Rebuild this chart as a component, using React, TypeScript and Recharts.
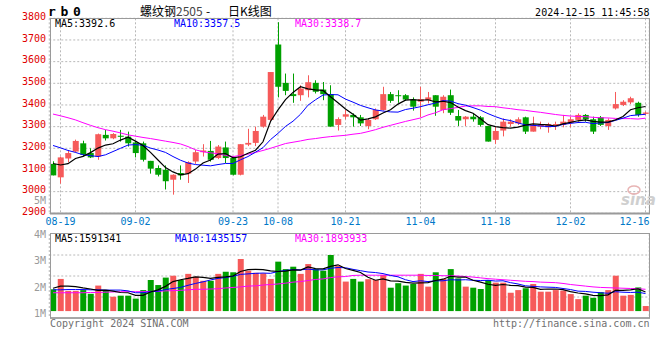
import { ComposedChart, Bar, Line, XAxis, YAxis, CartesianGrid, Cell } from 'recharts';

// rb0 daily K-line, trading days 08-16 .. 12-16
const DATES = [
  '08-16', '08-19', '08-20', '08-21', '08-22', '08-23', '08-26', '08-27', '08-28', '08-29',
  '08-30', '09-02', '09-03', '09-04', '09-05', '09-06', '09-09', '09-10', '09-11', '09-12',
  '09-13', '09-18', '09-19', '09-20', '09-23', '09-24', '09-25', '09-26', '09-27', '09-30',
  '10-08', '10-09', '10-10', '10-11', '10-14', '10-15', '10-16', '10-17', '10-18', '10-21',
  '10-22', '10-23', '10-24', '10-25', '10-28', '10-29', '10-30', '10-31', '11-01', '11-04',
  '11-05', '11-06', '11-07', '11-08', '11-11', '11-12', '11-13', '11-14', '11-15', '11-18',
  '11-19', '11-20', '11-21', '11-22', '11-25', '11-26', '11-27', '11-28', '11-29', '12-02',
  '12-03', '12-04', '12-05', '12-06', '12-09', '12-10', '12-11', '12-12', '12-13', '12-16',
];

const OPEN = [
  3128, 3066, 3153, 3185, 3223, 3178, 3162, 3262, 3246, 3258,
  3254, 3227, 3223, 3142, 3109, 3101, 3055, 3086, 3083, 3139,
  3182, 3188, 3155, 3204, 3155, 3078, 3217, 3225, 3300, 3331,
  3679, 3502, 3450, 3445, 3468, 3502, 3471, 3450, 3308, 3346,
  3354, 3343, 3303, 3334, 3377, 3450, 3445, 3445, 3425, 3415,
  3422, 3445, 3377, 3445, 3349, 3334, 3346, 3343, 3303, 3239,
  3282, 3312, 3315, 3343, 3277, 3300, 3297, 3306, 3308, 3318,
  3331, 3354, 3334, 3343, 3303, 3384, 3400, 3412, 3410, 3359,
];
const HIGH = [
  3140, 3162, 3190, 3240, 3235, 3200, 3268, 3285, 3270, 3285,
  3277, 3234, 3231, 3142, 3121, 3121, 3080, 3121, 3140, 3193,
  3219, 3234, 3215, 3231, 3162, 3219, 3290, 3300, 3354, 3552,
  3782, 3545, 3545, 3491, 3537, 3514, 3506, 3491, 3343, 3377,
  3361, 3354, 3338, 3384, 3484, 3460, 3468, 3450, 3435, 3484,
  3460, 3445, 3445, 3471, 3377, 3349, 3361, 3349, 3303, 3300,
  3338, 3334, 3343, 3346, 3346, 3323, 3318, 3323, 3354, 3346,
  3361, 3358, 3346, 3349, 3338, 3460, 3422, 3438, 3415, 3369,
];
const LOW = [
  3075, 3037, 3135, 3180, 3162, 3155, 3147, 3236, 3242, 3231,
  3208, 3158, 3139, 3083, 3070, 3010, 2986, 3055, 3040, 3128,
  3162, 3139, 3150, 3132, 3075, 3075, 3210, 3210, 3295, 3323,
  3435, 3445, 3410, 3419, 3435, 3453, 3422, 3300, 3282, 3334,
  3300, 3303, 3288, 3331, 3374, 3410, 3410, 3419, 3374, 3343,
  3407, 3350, 3362, 3354, 3303, 3303, 3323, 3300, 3231, 3220,
  3255, 3300, 3308, 3266, 3277, 3288, 3272, 3285, 3297, 3297,
  3323, 3323, 3266, 3303, 3285, 3379, 3395, 3404, 3346, 3354,
];
const CLOSE = [
  3075, 3158, 3178, 3234, 3170, 3158, 3265, 3246, 3266, 3253,
  3223, 3178, 3147, 3106, 3078, 3048, 3078, 3075, 3136, 3182,
  3190, 3147, 3208, 3155, 3078, 3219, 3225, 3280, 3346, 3552,
  3484, 3465, 3441, 3476, 3505, 3461, 3450, 3300, 3335, 3357,
  3343, 3315, 3331, 3377, 3450, 3419, 3441, 3425, 3392, 3427,
  3435, 3392, 3438, 3364, 3328, 3346, 3334, 3308, 3231, 3280,
  3323, 3323, 3334, 3277, 3308, 3308, 3312, 3312, 3323, 3334,
  3354, 3334, 3277, 3308, 3331, 3404, 3415, 3431, 3354, 3365,
];

const MA5 = [
  3130, 3123, 3129, 3153, 3163, 3180, 3201, 3215, 3221, 3238,
  3251, 3233, 3213, 3181, 3146, 3111, 3091, 3077, 3083, 3104,
  3132, 3146, 3173, 3176, 3156, 3161, 3177, 3191, 3230, 3324,
  3377, 3425, 3458, 3484, 3474, 3470, 3467, 3438, 3410, 3381,
  3357, 3330, 3336, 3345, 3363, 3378, 3404, 3422, 3425, 3421,
  3424, 3414, 3417, 3411, 3391, 3374, 3362, 3336, 3309, 3300,
  3295, 3293, 3298, 3307, 3313, 3310, 3308, 3303, 3313, 3320,
  3327, 3331, 3324, 3321, 3321, 3331, 3347, 3378, 3387, 3393,
];
const MA10 = [
  3213, 3202, 3190, 3181, 3170, 3166, 3162, 3170, 3185, 3200,
  3215, 3217, 3214, 3201, 3192, 3181, 3162, 3145, 3132, 3125,
  3122, 3119, 3125, 3130, 3130, 3147, 3162, 3182, 3203, 3240,
  3269, 3301, 3325, 3357, 3399, 3424, 3446, 3448, 3447, 3427,
  3413, 3398, 3387, 3377, 3372, 3368, 3367, 3379, 3385, 3392,
  3401, 3409, 3420, 3418, 3406, 3399, 3388, 3376, 3360, 3346,
  3334, 3328, 3317, 3308, 3306, 3303, 3300, 3301, 3310, 3315,
  3319, 3320, 3314, 3317, 3319, 3329, 3339, 3351, 3354, 3357,
];
const MA30 = [
  3358, 3350, 3341, 3331, 3318, 3306, 3295, 3286, 3279, 3271,
  3262, 3256, 3250, 3245, 3239, 3233, 3227, 3220, 3208, 3193,
  3184, 3179, 3175, 3167, 3162, 3167, 3173, 3181, 3190, 3200,
  3211, 3222, 3228, 3234, 3241, 3245, 3250, 3254, 3257, 3260,
  3265, 3269, 3277, 3286, 3297, 3306, 3315, 3324, 3332, 3340,
  3354, 3364, 3378, 3383, 3389, 3395, 3396, 3396, 3393, 3392,
  3387, 3383, 3378, 3375, 3370, 3366, 3361, 3356, 3352, 3349,
  3347, 3346, 3343, 3341, 3340, 3338, 3337, 3337, 3335, 3339,
];

// volume in millions, read against the panel's M labels
const VOLUME = [
  1.92, 2.31, 1.86, 1.86, 1.89, 1.75, 2.06, 1.89, 1.64, 1.68,
  1.68, 1.57, 1.89, 2.27, 2.08, 2.36, 2.43, 2.27, 2.5, 2.39,
  2.24, 2.24, 2.5, 2.58, 2.56, 3.06, 2.62, 2.54, 2.52, 2.31,
  2.96, 2.68, 2.77, 2.5, 2.87, 2.68, 2.62, 3.21, 2.8, 2.21,
  2.31, 2.21, 2.3, 2.27, 2.46, 1.98, 2.15, 2.06, 2.12, 2.5,
  2.02, 2.56, 2.31, 2.68, 2.33, 2.02, 1.98, 1.93, 2.27, 2.17,
  2.17, 1.79, 1.89, 1.96, 2.12, 1.83, 1.83, 1.89, 1.87, 1.74,
  1.55, 1.68, 1.6, 1.81, 1.89, 2.43, 1.68, 1.71, 1.99, 1.29,
];
const VOL_MA5 = [
  1.96, 2.04, 2.04, 2.02, 1.97, 1.93, 1.88, 1.89, 1.85, 1.8,
  1.79, 1.69, 1.69, 1.82, 1.9, 2.03, 2.21, 2.28, 2.33, 2.39,
  2.37, 2.33, 2.37, 2.39, 2.42, 2.59, 2.66, 2.67, 2.66, 2.61,
  2.59, 2.6, 2.65, 2.64, 2.76, 2.7, 2.69, 2.78, 2.84, 2.7,
  2.63, 2.55, 2.37, 2.26, 2.31, 2.24, 2.23, 2.18, 2.15, 2.16,
  2.17, 2.25, 2.3, 2.41, 2.38, 2.38, 2.26, 2.19, 2.11, 2.07,
  2.1, 2.07, 2.06, 2.0, 1.99, 1.92, 1.93, 1.93, 1.91, 1.83,
  1.78, 1.75, 1.69, 1.68, 1.71, 1.88, 1.88, 1.9, 1.94, 1.82,
];
const VOL_MA10 = [
  1.9, 1.9, 1.91, 1.91, 1.91, 1.9, 1.9, 1.89, 1.89, 1.89,
  1.86, 1.79, 1.79, 1.83, 1.85, 1.91, 1.95, 1.99, 2.07, 2.14,
  2.2, 2.27, 2.33, 2.36, 2.41, 2.48, 2.5, 2.52, 2.53, 2.52,
  2.59, 2.63, 2.66, 2.65, 2.68, 2.65, 2.65, 2.71, 2.74, 2.73,
  2.67, 2.62, 2.57, 2.55, 2.51, 2.44, 2.39, 2.28, 2.21, 2.24,
  2.21, 2.24, 2.24, 2.28, 2.27, 2.28, 2.26, 2.25, 2.26, 2.23,
  2.24, 2.17, 2.12, 2.05, 2.03, 2.01, 2.0, 1.99, 1.95, 1.91,
  1.85, 1.84, 1.81, 1.79, 1.77, 1.83, 1.81, 1.8, 1.81, 1.76,
];
const VOL_MA30 = [
  1.79, 1.79, 1.79, 1.79, 1.79, 1.8, 1.8, 1.81, 1.82, 1.83,
  1.83, 1.83, 1.83, 1.84, 1.84, 1.86, 1.87, 1.88, 1.9, 1.92,
  1.92, 1.93, 1.94, 1.97, 1.99, 2.01, 2.04, 2.05, 2.08, 2.1,
  2.12, 2.15, 2.19, 2.21, 2.25, 2.29, 2.31, 2.36, 2.39, 2.4,
  2.44, 2.45, 2.45, 2.45, 2.45, 2.45, 2.45, 2.45, 2.45, 2.45,
  2.44, 2.44, 2.43, 2.43, 2.42, 2.4, 2.38, 2.35, 2.32, 2.3,
  2.28, 2.26, 2.24, 2.22, 2.21, 2.19, 2.18, 2.17, 2.14, 2.1,
  2.07, 2.04, 2.01, 1.99, 1.98, 1.97, 1.96, 1.95, 1.94, 1.92,
];

const DATE_TICKS = ['08-19', '09-02', '09-23', '10-08', '10-21', '11-04', '11-18', '12-02', '12-16'];
const PRICE_TICKS = [2900, 3000, 3100, 3200, 3300, 3400, 3500, 3600, 3700, 3800];
const VOL_TICKS = [1, 2, 3, 4];
const VOL_FLOOR = 1.1;

const RED = '#f65a5a';
const GREEN = '#00a000';
const GRID = '#b8b8b8';
const FRAME = '#9a9a9a';
const MONO = '"DejaVu Sans Mono", monospace';

const tickIdx = DATE_TICKS.map((d) => DATES.indexOf(d));
const last = DATES.length - 1;

const rows = DATES.map((date, i) => ({
  i,
  date,
  open: OPEN[i],
  high: HIGH[i],
  low: LOW[i],
  close: CLOSE[i],
  range: [LOW[i], HIGH[i]],
  ma5: MA5[i],
  ma10: MA10[i],
  ma30: MA30[i],
  volRange: [VOL_FLOOR, VOLUME[i]],
  up: CLOSE[i] >= OPEN[i],
  vma5: VOL_MA5[i],
  vma10: VOL_MA10[i],
  vma30: VOL_MA30[i],
}));

function Candle(props: any) {
  const { x, y, width, height, payload } = props;
  const top = Math.min(y, y + height);
  const h = Math.abs(height);
  const span = payload.high - payload.low || 1;
  const py = (p: number) => top + ((payload.high - p) / span) * h;
  const color = payload.up ? RED : GREEN;
  const cx = Math.floor(x + width / 2) + 0.5;
  const bTop = py(Math.max(payload.open, payload.close));
  const bBot = py(Math.min(payload.open, payload.close));
  return (
    <g>
      <line x1={cx} x2={cx} y1={top} y2={top + h} stroke={color} strokeWidth={1} />
      <rect x={x} y={bTop} width={width} height={Math.max(1, bBot - bTop)} fill={color} />
    </g>
  );
}

const PriceTick = ({ y, payload }: any) => (
  <text x={46} y={y + 1.8} textAnchor="end" fill="#e00000" fontSize={10} fontFamily={MONO}>
    {payload.value}
  </text>
);

const VolTick = ({ y, payload }: any) => (
  <text x={46} y={y + 3.5} textAnchor="end" fill="#9a9a9a" fontSize={10} fontFamily={MONO}>
    {payload.value + 'M'}
  </text>
);

const DateTick = ({ x, y, payload }: any) => {
  const end = payload.value === last;
  return (
    <text x={end ? 649.5 : x} y={y + 11.7} textAnchor={end ? 'end' : 'middle'} fill="#0078c8" fontSize={10} fontFamily={MONO}>
      {DATES[payload.value]}
    </text>
  );
};

export default function App() {
  return (
    <div style={{ position: 'relative', width: 660, height: 360, background: '#fff' }}>
      <style>{'body{margin:0}'}</style>

      <div style={{ position: 'absolute', left: 0, top: 0 }}>
        <ComposedChart width={660} height={230} data={rows} margin={{ top: 18.3, right: 10.75, bottom: 0, left: 0 }}>
          <CartesianGrid stroke={GRID} strokeDasharray="2 2" />
          <XAxis
            type="number"
            dataKey="i"
            domain={[-0.5, last + 0.5]}
            ticks={tickIdx}
            interval={0}
            height={16.7}
            tickSize={0}
            tickMargin={0}
            axisLine={false}
            tick={<DateTick />}
          />
          <YAxis
            domain={[2900, 3800]}
            ticks={PRICE_TICKS}
            interval={0}
            width={49.25}
            tickSize={0}
            tickMargin={0}
            axisLine={false}
            tick={<PriceTick />}
          />
          <Bar dataKey="range" barSize={6} shape={<Candle />} isAnimationActive={false} />
          <Line dataKey="ma30" stroke="#ff00ff" strokeWidth={1} dot={false} isAnimationActive={false} />
          <Line dataKey="ma10" stroke="#0000ff" strokeWidth={1} dot={false} isAnimationActive={false} />
          <Line dataKey="ma5" stroke="#000" strokeWidth={1.2} dot={false} isAnimationActive={false} />
        </ComposedChart>
      </div>

      <div style={{ position: 'absolute', left: 0, top: 220 }}>
        <ComposedChart width={660} height={100} data={rows} margin={{ top: 14, right: 10.75, bottom: 0, left: 0 }}>
          <CartesianGrid stroke={GRID} strokeDasharray="2 2" horizontalPoints={[35, 56, 77]} />
          <XAxis
            type="number"
            dataKey="i"
            domain={[-0.5, last + 0.5]}
            ticks={tickIdx}
            interval={0}
            height={2}
            tick={false}
            tickLine={false}
            axisLine={false}
          />
          <YAxis
            domain={[0.84, 4]}
            ticks={VOL_TICKS}
            interval={0}
            width={49.25}
            tickSize={0}
            tickMargin={0}
            axisLine={false}
            tick={<VolTick />}
          />
          <Bar dataKey="volRange" barSize={6} isAnimationActive={false}>
            {rows.map((r) => (
              <Cell key={r.i} fill={r.up ? RED : GREEN} />
            ))}
          </Bar>
          <Line dataKey="vma30" stroke="#ff00ff" strokeWidth={1} dot={false} isAnimationActive={false} />
          <Line dataKey="vma10" stroke="#0000ff" strokeWidth={1} dot={false} isAnimationActive={false} />
          <Line dataKey="vma5" stroke="#000" strokeWidth={1.2} dot={false} isAnimationActive={false} />
        </ComposedChart>
      </div>

      <svg width={660} height={360} style={{ position: 'absolute', left: 0, top: 0, pointerEvents: 'none' }}>
        <rect x={50.5} y={18.5} width={599} height={195} fill="none" stroke={FRAME} />
        <line x1={50} x2={650} y1={213.5} y2={213.5} stroke={FRAME} strokeWidth={2} />
        <rect x={50.5} y={233.5} width={599} height={84.5} fill="none" stroke={FRAME} />
        <line x1={50} x2={650} y1={318} y2={318} stroke={FRAME} strokeWidth={1.5} />

        <text x={48} y={15.7} fontSize={13} fontWeight="bold" fontFamily={MONO} letterSpacing={4.7} fill="#000">rb0</text>
        <text y={15.5} fontSize={12} fontFamily='"Noto Sans CJK SC", sans-serif' fill="#000">
          <tspan x={140}>螺纹钢</tspan>
          <tspan x={176} fill="#444">2505</tspan>
          <tspan x={206}>-</tspan>
          <tspan x={228}>日K线图</tspan>
        </text>
        <text x={649.5} y={15.7} textAnchor="end" fontSize={10} fontFamily={MONO} fill="#000">2024-12-15 11:45:58</text>

        <text x={55} y={26.7} fontSize={10} fontFamily={MONO} fill="#000">MA5:3392.6</text>
        <text x={174} y={26.7} fontSize={10} fontFamily={MONO} fill="#0000ff">MA10:3357.5</text>
        <text x={295} y={26.7} fontSize={10} fontFamily={MONO} fill="#ff00ff">MA30:3338.7</text>

        <text x={46} y={204} textAnchor="end" fontSize={10} fontFamily={MONO} fill="#9a9a9a">5M</text>
        <text x={621} y={205} fontSize={15} fontStyle="italic" fontWeight="bold" fontFamily='"DejaVu Sans", sans-serif' fill="#cfcfcf">sina</text>
        <ellipse cx={634} cy={190} rx={6} ry={4} fill="none" stroke="#e8b4b4" strokeWidth={1.5} />

        <text x={55} y={241.5} fontSize={10} fontFamily={MONO} fill="#000">MA5:1591341</text>
        <text x={175} y={241.5} fontSize={10} fontFamily={MONO} fill="#0000ff">MA10:1435157</text>
        <text x={295} y={241.5} fontSize={10} fontFamily={MONO} fill="#ff00ff">MA30:1893933</text>

        <text x={50} y={327.3} fontSize={10} fontFamily={MONO} fill="#707070">Copyright 2024 SINA.COM</text>
        <text x={649.5} y={327.3} textAnchor="end" fontSize={10} fontFamily={MONO} fill="#707070">http://finance.sina.com.cn</text>
      </svg>
    </div>
  );
}
